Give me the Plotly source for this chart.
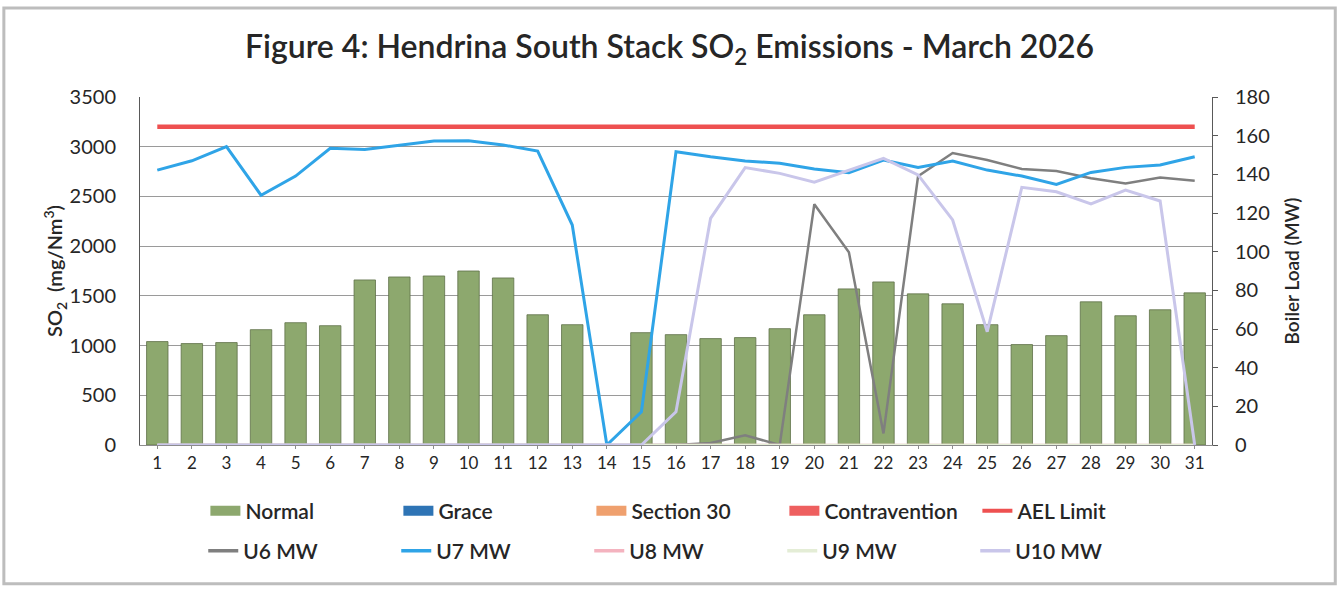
import plotly.graph_objects as go

days = list(range(1, 32))
day_labels = [str(d) for d in days]

normal_so2 = [1040, 1020, 1030, 1160, 1230, 1200, 1660, 1690, 1700, 1750, 1680, 1310, 1210, None,
              1130, 1110, 1070, 1080, 1170, 1310, 1570, 1640, 1520, 1420, 1210, 1010, 1100, 1440,
              1300, 1360, 1530]
grace_so2 = [None] * 31
section30_so2 = [None] * 31
contravention_so2 = [None] * 31
ael_limit = [3200] * 31

u6_mw = [0, 0, 0, 0, 0, 0, 0, 0, 0, 0, 0, 0, 0, 0, 0, 0, 1, 5, 0, 124.5, 99.7, 6, 139, 151,
         147.4, 142.8, 141.7, 138, 135.3, 138.4, 136.7]
u7_mw = [142.2, 147, 154.3, 129.2, 139.1, 153.5, 152.9, 155.2, 157.2, 157.4, 155.2, 152, 113.8, 0,
         17.2, 151.7, 149.1, 146.9, 145.7, 142.8, 140.8, 147.4, 143.6, 146.9, 142.2, 139.1, 134.8,
         141, 143.6, 144.8, 149.1]
u8_mw = [0] * 31
u9_mw = [0] * 31
u10_mw = [0, 0, 0, 0, 0, 0, 0, 0, 0, 0, 0, 0, 0, 0, 0, 17.2, 117.2, 143.5, 140.5, 135.9, 142.2,
          148.3, 139.7, 116.4, 58.6, 133.3, 131, 124.7, 131.9, 126.2, 0]

FONT = "Lato"
TXT = "#262626"

C_NORMAL = "#8DA86E"
C_GRACE = "#2E74B5"
C_S30 = "#EFA06E"
C_CONTRA = "#EE5F5F"
C_AEL = "#EE5050"
C_U6 = "#7F7F7F"
C_U7 = "#2FA4E7"
C_U8 = "#F4B3BF"
C_U9 = "#E4EDD6"
C_U10 = "#C9C6EA"

fig = go.Figure()

# bars (left axis)
for name, vals, col in [("Normal", normal_so2, C_NORMAL), ("Grace", grace_so2, C_GRACE),
                        ("Section 30", section30_so2, C_S30), ("Contravention", contravention_so2, C_CONTRA)]:
    fig.add_trace(go.Bar(x=days, y=vals, name=name, marker=dict(color=col, line=dict(color="#5E7048", width=0.8)),
                         width=0.62, showlegend=False, legendgroup=name, yaxis="y"))

fig.add_trace(go.Scatter(x=days, y=ael_limit, name="AEL Limit", mode="lines",
                         line=dict(color=C_AEL, width=4.5), showlegend=False, legendgroup="AEL Limit", yaxis="y"))

# lines on right axis
for name, vals, col, w in [("U6 MW", u6_mw, C_U6, 2.5), ("U7 MW", u7_mw, C_U7, 3),
                           ("U8 MW", u8_mw, C_U8, 2.5), ("U9 MW", u9_mw, C_U9, 2.5),
                           ("U10 MW", u10_mw, C_U10, 3)]:
    fig.add_trace(go.Scatter(x=days, y=vals, name=name, mode="lines", line=dict(color=col, width=w),
                             showlegend=False, legendgroup=name, yaxis="y2"))

# legend entries (row 1 and row 2)
for name, col, w in [("Normal", C_NORMAL, 11), ("Grace", C_GRACE, 11), ("Section 30", C_S30, 11),
                     ("Contravention", C_CONTRA, 11), ("AEL Limit", C_AEL, 4)]:
    fig.add_trace(go.Scatter(x=[None], y=[None], name=name, mode="lines", line=dict(color=col, width=w),
                             legendgroup=name, legend="legend", showlegend=True))
for name, col in [("U6 MW", C_U6), ("U7 MW", C_U7), ("U8 MW", C_U8), ("U9 MW", C_U9), ("U10 MW", C_U10)]:
    fig.add_trace(go.Scatter(x=[None], y=[None], name=name, mode="lines", line=dict(color=col, width=3.5),
                             legendgroup=name, legend="legend2", showlegend=True))

legend_common = dict(orientation="h", xanchor="left", yanchor="middle", entrywidth=148,
                     entrywidthmode="pixels", font=dict(family=FONT, size=21, color=TXT, weight=600),
                     bgcolor="rgba(0,0,0,0)", itemclick=False, itemdoubleclick=False)

fig.update_layout(
    width=1339, height=589,
    paper_bgcolor="white", plot_bgcolor="white",
    margin=dict(l=140, r=127, t=97, b=144, autoexpand=False),
    barmode="overlay",
    title=dict(text="Figure 4: Hendrina South Stack SO<sub>2</sub> Emissions - March 2026",
               x=0.5, xanchor="center", y=0.92, yanchor="middle",
               font=dict(family=FONT, size=32, color=TXT, weight=600)),
    font=dict(family=FONT, color=TXT),
    xaxis=dict(range=[0.5, 31.5], tickmode="array", tickvals=days, ticktext=day_labels,
               showgrid=False, zeroline=False, showline=True, linecolor="#8C8C8C", linewidth=1,
               ticks="outside", ticklen=3, tickcolor="#8C8C8C",
               tickfont=dict(family=FONT, size=17, color=TXT)),
    yaxis=dict(range=[0, 3500], dtick=500, showgrid=True, gridcolor="#9A9A9A", gridwidth=1,
               zeroline=False, showline=True, linecolor="#595959", linewidth=1, ticks="",
               tickfont=dict(family=FONT, size=20, color=TXT), ticklabelstandoff=19,
               title=dict(text="SO<sub>2</sub>  (mg/Nm<sup>3</sup>)", standoff=0,
                          font=dict(family=FONT, size=20, color=TXT, weight=600))),
    yaxis2=dict(range=[0, 180], dtick=20, overlaying="y", side="right", showgrid=False,
                zeroline=False, showline=True, linecolor="#595959", linewidth=1,
                ticks="outside", ticklen=5, tickcolor="#595959",
                tickfont=dict(family=FONT, size=20, color=TXT), ticklabelstandoff=13,
                title=dict(text="Boiler Load (MW)", standoff=16,
                           font=dict(family=FONT, size=19, color=TXT, weight=600))),
    legend=dict(x=0.061, y=-0.19, **legend_common),
    legend2=dict(x=0.059, y=-0.305, **legend_common),
    shapes=[dict(type="rect", xref="paper", yref="paper", x0=-0.127, x1=1.115, y0=-0.399, y1=1.256,
                 line=dict(color="#BDBDBD", width=3), fillcolor="rgba(0,0,0,0)", layer="below")],
)

fig.write_html("out.html", config={"displayModeBar": False},
               post_script="document.body.style.margin='0';")
